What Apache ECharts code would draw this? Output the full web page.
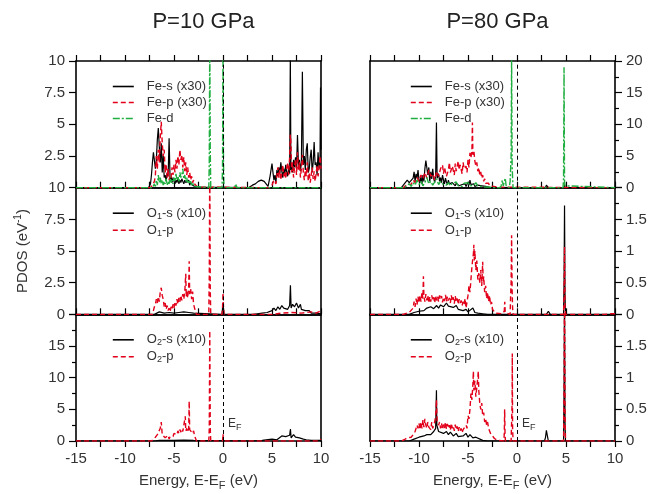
<!DOCTYPE html>
<html><head><meta charset="utf-8">
<script src="https://cdn.jsdelivr.net/npm/echarts@6/dist/echarts.min.js"></script>
<style>html,body{margin:0;padding:0;background:#fff}#c{width:663px;height:494px}</style>
</head><body><div id="c"></div>
<script>
const columnTitles = ['P=10 GPa', 'P=80 GPa'];
const fermiEnergy = [0];
const xTickRange = [-15, 10, 5];

// ---- Fe, 10 GPa ----
const fe10S = [[-15,0],[-7.6,0],[-7.4,0.3],[-7.3,1.0],[-7.2,2.0],[-7.1,2.8],[-7.0,2.9],[-6.9,1.5],[-6.8,2.2],[-6.7,3.8],[-6.6,4.7],[-6.5,3.2],[-6.4,2.0],[-6.3,3.5],[-6.2,1.2],[-6.1,2.6],[-6.0,0.8],[-5.9,1.0],[-5.8,0.5],[-5.7,1.2],[-5.6,0.9],[-5.5,3.9],[-5.4,0.7],[-5.3,0.9],[-5.2,0.4],[-5.1,0.8],[-5.0,0.5],[-4.9,0.3],[-4.8,0.6],[-4.7,0.4],[-4.6,0.8],[-4.5,0.3],[-4.4,0.6],[-4.3,0.4],[-4.2,0.7],[-4.1,0.5],[-4.0,0.3],[-3.9,0.6],[-3.8,0.4],[-3.7,0.5],[-3.6,0.3],[-3.5,0.6],[-3.4,0.2],[-3.3,0.4],[-3.2,0.3],[-3.1,0.2],[-3.0,0.3],[-2.9,0.1],[-2.8,0.05],[-2.6,0],[2.6,0],[2.8,0.1],[3.0,0.2],[3.3,0.3],[3.6,0.5],[3.9,0.6],[4.2,0.5],[4.4,0.3],[4.6,0.1],[4.8,0.9],[5.0,1.9],[5.1,1.2],[5.2,0.6],[5.3,1.0],[5.4,0.4],[5.5,1.4],[5.6,0.9],[5.7,1.6],[5.8,1.1],[5.9,2.0],[6.0,1.3],[6.1,0.8],[6.2,1.5],[6.3,1.0],[6.4,1.8],[6.5,1.2],[6.6,0.9],[6.7,1.6],[6.8,1.1],[6.87,10.5],[6.93,1.4],[7.0,1.9],[7.1,1.2],[7.2,2.2],[7.3,1.6],[7.4,2.4],[7.5,1.5],[7.6,4.15],[7.7,1.8],[7.8,2.2],[7.9,1.3],[8.0,2.0],[8.1,9.15],[8.2,1.8],[8.3,2.5],[8.4,1.4],[8.5,3.0],[8.6,3.5],[8.7,1.2],[8.8,1.5],[8.9,2.4],[9.0,3.0],[9.1,1.2],[9.2,2.0],[9.3,3.6],[9.4,1.8],[9.5,2.0],[9.6,1.0],[9.7,2.8],[9.8,1.5],[9.9,2.0],[9.95,7.9],[10,3.0]];
const fe10P = [[-15,0],[-7.4,0],[-7.2,0.2],[-7.0,0.5],[-6.9,1.0],[-6.8,2.5],[-6.7,1.5],[-6.6,3.0],[-6.5,2.0],[-6.4,4.0],[-6.3,5.2],[-6.2,3.5],[-6.1,2.5],[-6.0,3.0],[-5.9,1.2],[-5.8,1.8],[-5.7,0.8],[-5.6,1.5],[-5.5,0.6],[-5.4,1.0],[-5.3,0.8],[-5.2,1.6],[-5.1,1.0],[-5.0,1.8],[-4.9,1.2],[-4.8,2.2],[-4.7,1.5],[-4.6,2.5],[-4.5,1.8],[-4.4,3.0],[-4.3,2.2],[-4.2,2.6],[-4.1,1.6],[-4.0,2.4],[-3.9,1.3],[-3.8,2.0],[-3.7,1.0],[-3.6,1.6],[-3.5,0.8],[-3.4,1.2],[-3.3,0.6],[-3.2,0.9],[-3.1,0.4],[-3.0,0.6],[-2.9,0.3],[-2.8,0.2],[-2.6,0.05],[-2.5,0],[4.8,0],[5.0,0.2],[5.2,0.6],[5.4,0.3],[5.5,1.0],[5.6,1.6],[5.7,0.8],[5.8,1.4],[5.9,0.6],[6.0,1.2],[6.1,1.8],[6.2,0.9],[6.3,1.3],[6.4,0.7],[6.5,1.5],[6.6,2.0],[6.7,1.0],[6.8,2.4],[6.87,4.2],[6.93,3.5],[7.0,1.2],[7.1,2.0],[7.2,0.8],[7.3,1.6],[7.4,2.2],[7.5,1.0],[7.6,2.8],[7.7,1.4],[7.8,2.0],[7.9,0.8],[8.0,1.5],[8.1,2.6],[8.2,1.2],[8.3,0.6],[8.4,1.4],[8.5,0.9],[8.6,2.0],[8.7,0.5],[8.8,1.2],[8.9,0.4],[9.0,1.0],[9.1,1.6],[9.2,0.7],[9.3,1.3],[9.4,0.5],[9.5,1.1],[9.6,1.8],[9.7,0.9],[9.8,1.5],[9.9,2.5],[10,1.5]];
const fe10D = [[-15,0],[-7.2,0],[-7.0,0.3],[-6.9,0.1],[-6.8,0.6],[-6.7,0.2],[-6.6,1.0],[-6.5,0.4],[-6.4,0.8],[-6.3,0.3],[-6.2,0.6],[-6.1,0.2],[-6.0,0.5],[-5.9,0.3],[-5.8,0.7],[-5.7,0.2],[-5.6,0.5],[-5.5,0.3],[-5.4,0.9],[-5.3,0.4],[-5.2,0.6],[-5.1,0.3],[-5.0,0.8],[-4.9,0.5],[-4.8,1.1],[-4.7,0.6],[-4.6,0.9],[-4.5,0.5],[-4.4,1.2],[-4.3,0.8],[-4.2,1.0],[-4.1,1.5],[-4.0,0.7],[-3.9,1.0],[-3.8,0.5],[-3.7,0.8],[-3.6,0.4],[-3.5,0.6],[-3.4,0.3],[-3.3,0.5],[-3.2,0.2],[-3.1,0.4],[-3.0,0.1],[-2.9,0.2],[-2.8,0],[-1.45,0],[-1.4,2.0],[-1.35,12],[-1.3,3.0],[-1.25,0],[-0.1,0],[-0.05,1.5],[0.0,11],[0.05,2.0],[0.1,0],[1.2,0],[1.3,0.3],[1.4,0],[10,0]];

// ---- Fe, 80 GPa ----
const fe80S = [[-15,0],[-11.8,0],[-11.6,0.3],[-11.4,0.8],[-11.2,1.2],[-11.0,0.8],[-10.8,0.5],[-10.6,1.5],[-10.5,2.5],[-10.4,1.0],[-10.3,2.2],[-10.2,1.5],[-10.1,2.8],[-10.0,1.2],[-9.9,0.8],[-9.8,1.8],[-9.7,0.6],[-9.6,2.0],[-9.5,1.0],[-9.4,3.0],[-9.3,4.3],[-9.2,4.5],[-9.1,2.0],[-9.0,3.2],[-8.9,1.0],[-8.8,2.5],[-8.7,1.4],[-8.6,3.0],[-8.5,1.5],[-8.4,0.8],[-8.3,2.0],[-8.22,10.3],[-8.15,1.5],[-8.0,2.2],[-7.9,1.0],[-7.8,1.6],[-7.7,0.8],[-7.6,2.0],[-7.5,1.2],[-7.4,0.6],[-7.3,1.5],[-7.2,0.9],[-7.1,0.5],[-7.0,1.2],[-6.9,0.6],[-6.8,0.9],[-6.7,0.4],[-6.6,0.8],[-6.5,0.5],[-6.4,1.0],[-6.3,0.3],[-6.2,0.7],[-6.1,0.4],[-6.0,0.8],[-5.9,0.3],[-5.8,0.6],[-5.7,0.2],[-5.6,0.5],[-5.5,0.8],[-5.4,0.3],[-5.3,0.6],[-5.2,0.2],[-5.1,0.5],[-5.0,0.9],[-4.9,0.4],[-4.8,1.2],[-4.7,0.5],[-4.6,0.8],[-4.5,0.3],[-4.4,0.6],[-4.3,0.2],[-4.2,0.5],[-4.1,0.3],[-4.0,0.4],[-3.8,0.2],[-3.6,0.3],[-3.4,0.1],[-3.2,0.2],[-3.0,0.1],[-2.8,0.05],[-2.5,0],[2.9,0],[3.0,0.4],[3.1,0.1],[3.2,0],[4.8,0],[4.85,0.5],[4.9,0],[10,0]];
const fe80P = [[-15,0],[-11.6,0],[-11.4,0.3],[-11.2,0.6],[-11.0,0.9],[-10.8,0.5],[-10.6,1.2],[-10.4,0.8],[-10.2,1.6],[-10.0,1.0],[-9.8,2.0],[-9.6,1.4],[-9.4,2.4],[-9.2,1.5],[-9.0,2.8],[-8.8,1.8],[-8.6,2.2],[-8.4,1.2],[-8.2,2.6],[-8.0,1.8],[-7.8,3.0],[-7.6,3.6],[-7.5,2.2],[-7.4,3.2],[-7.2,1.8],[-7.0,2.8],[-6.9,4.0],[-6.8,2.4],[-6.6,3.4],[-6.4,2.0],[-6.3,3.8],[-6.2,2.6],[-6.0,4.2],[-5.9,2.8],[-5.8,3.6],[-5.6,2.2],[-5.5,4.0],[-5.4,3.0],[-5.2,3.4],[-5.1,2.4],[-5.0,4.4],[-4.9,3.2],[-4.8,5.5],[-4.7,4.8],[-4.6,5.8],[-4.55,10.3],[-4.5,5.2],[-4.4,5.8],[-4.3,4.2],[-4.2,3.5],[-4.1,4.0],[-4.0,2.6],[-3.9,3.2],[-3.8,2.0],[-3.7,2.5],[-3.6,1.5],[-3.5,2.0],[-3.4,1.0],[-3.3,1.4],[-3.2,0.7],[-3.1,1.0],[-3.0,0.5],[-2.9,0.7],[-2.8,0.3],[-2.6,0.5],[-2.4,0.2],[-2.2,0.4],[-2.0,0.1],[-1.8,0],[10,0]];
const fe80D = [[-15,0],[-11.5,0],[-11.3,0.3],[-11.0,0.6],[-10.8,0.2],[-10.6,0.8],[-10.4,0.4],[-10.2,1.2],[-10.0,0.5],[-9.8,1.0],[-9.6,0.3],[-9.4,0.8],[-9.2,1.6],[-9.0,0.6],[-8.8,1.0],[-8.6,0.4],[-8.4,0.9],[-8.2,1.4],[-8.0,0.5],[-7.8,1.0],[-7.6,0.6],[-7.4,0.9],[-7.2,0.4],[-7.0,0.8],[-6.8,0.3],[-6.6,0.7],[-6.4,0.4],[-6.2,0.9],[-6.0,0.3],[-5.8,0.6],[-5.6,0.2],[-5.4,0.7],[-5.2,0.4],[-5.0,0.8],[-4.8,0.3],[-4.6,0.6],[-4.4,0.4],[-4.2,0.8],[-4.0,0.3],[-3.8,0.5],[-3.6,0.2],[-3.4,0.4],[-3.2,0.1],[-3.0,0.3],[-2.8,0.1],[-2.6,0.2],[-2.4,0],[-1.7,0],[-1.6,0.4],[-1.5,1.2],[-1.4,0.3],[-1.3,0],[-1.2,1.5],[-1.1,0.2],[-0.8,0],[-0.7,1.0],[-0.6,5.0],[-0.55,21],[-0.5,4.0],[-0.45,1.5],[-0.4,0],[2.9,0],[3.0,0.3],[3.1,0],[4.7,0],[4.75,1.5],[4.8,19],[4.85,1.0],[4.9,0.3],[5.0,0],[10,0]];

// ---- O1, 10 GPa ----
const o1_10S = [[-15,0],[-7.0,0],[-6.8,0.1],[-6.5,0.2],[-6.3,0.15],[-6.0,0.1],[-5.5,0.15],[-5.0,0.1],[-4.5,0.15],[-4.0,0.2],[-3.5,0.15],[-3.0,0.1],[-2.8,0],[-0.1,0],[0.0,0.9],[0.1,0],[3.0,0],[3.5,0.05],[4.0,0.1],[4.5,0.15],[5.0,0.3],[5.2,0.5],[5.4,0.3],[5.6,0.6],[5.8,0.4],[6.0,0.7],[6.2,0.5],[6.4,0.6],[6.6,0.4],[6.8,0.7],[6.88,2.3],[6.95,0.5],[7.1,0.8],[7.3,0.6],[7.5,0.9],[7.7,0.5],[7.9,0.8],[8.0,0.4],[8.2,0.5],[8.4,0.3],[8.6,0.2],[8.8,0.3],[9.0,0.1],[9.5,0.1],[10,0.05]];
const o1_10P = [[-15,0],[-7.2,0],[-7.1,0.3],[-7.0,0.6],[-6.9,0.8],[-6.8,1.2],[-6.7,0.9],[-6.6,1.4],[-6.5,1.0],[-6.4,1.8],[-6.3,2.1],[-6.2,1.5],[-6.1,1.2],[-6.0,0.6],[-5.9,0.9],[-5.8,0.4],[-5.7,0.7],[-5.6,0.3],[-5.5,0.5],[-5.4,0.2],[-5.3,0.6],[-5.2,0.4],[-5.1,0.8],[-5.0,0.5],[-4.9,1.0],[-4.8,0.7],[-4.7,1.2],[-4.6,0.8],[-4.5,1.3],[-4.4,1.0],[-4.3,1.5],[-4.2,1.1],[-4.1,1.6],[-4.0,1.2],[-3.9,1.8],[-3.8,3.2],[-3.75,1.4],[-3.7,1.9],[-3.6,1.3],[-3.5,2.2],[-3.45,4.2],[-3.4,1.6],[-3.3,2.0],[-3.2,1.2],[-3.1,1.8],[-3.0,0.8],[-2.9,0.5],[-2.8,0.2],[-2.7,0],[-1.45,0],[-1.4,3.0],[-1.35,12],[-1.3,2.0],[-1.25,0],[-0.1,0],[-0.05,0.5],[0.0,1.7],[0.05,0.6],[0.1,0],[5.0,0],[5.2,0.05],[6.0,0.1],[7.0,0.15],[8.0,0.1],[9.0,0.2],[9.5,0.1],[10,0.3]];

// ---- O1, 80 GPa ----
const o1_80S = [[-15,0],[-11.0,0],[-10.5,0.03],[-10.0,0.05],[-9.8,0.08],[-9.5,0.06],[-9.2,0.1],[-9.0,0.07],[-8.8,0.12],[-8.5,0.09],[-8.2,0.14],[-8.0,0.1],[-7.8,0.15],[-7.5,0.12],[-7.2,0.18],[-7.0,0.13],[-6.8,0.16],[-6.5,0.11],[-6.2,0.14],[-6.0,0.08],[-5.8,0.1],[-5.5,0.06],[-5.2,0.08],[-5.0,0.04],[-4.8,0.05],[-4.5,0.1],[-4.3,0.03],[-4.0,0.02],[-3.5,0.01],[-3.0,0],[3.0,0],[3.1,0.03],[3.2,0.05],[3.3,0.02],[3.4,0],[4.75,0],[4.8,0.5],[4.85,1.72],[4.9,0.3],[4.95,0],[10,0]];
const o1_80P = [[-15,0],[-11.6,0],[-11.4,0.02],[-11.0,0.03],[-10.8,0.06],[-10.6,0.1],[-10.5,0.2],[-10.4,0.12],[-10.3,0.25],[-10.2,0.15],[-10.1,0.28],[-10.0,0.18],[-9.9,0.3],[-9.8,0.2],[-9.7,0.35],[-9.6,0.25],[-9.55,0.6],[-9.5,0.3],[-9.4,0.2],[-9.3,0.32],[-9.2,0.22],[-9.1,0.3],[-9.0,0.18],[-8.9,0.28],[-8.8,0.2],[-8.7,0.3],[-8.6,0.22],[-8.5,0.27],[-8.4,0.18],[-8.3,0.3],[-8.2,0.22],[-8.1,0.28],[-8.0,0.2],[-7.9,0.3],[-7.8,0.24],[-7.7,0.29],[-7.6,0.19],[-7.5,0.27],[-7.4,0.21],[-7.3,0.31],[-7.2,0.2],[-7.1,0.28],[-7.0,0.22],[-6.9,0.26],[-6.8,0.18],[-6.7,0.3],[-6.6,0.21],[-6.5,0.27],[-6.4,0.17],[-6.3,0.29],[-6.2,0.2],[-6.1,0.25],[-6.0,0.16],[-5.9,0.24],[-5.8,0.18],[-5.7,0.22],[-5.6,0.14],[-5.5,0.2],[-5.4,0.15],[-5.3,0.25],[-5.2,0.1],[-5.1,0.2],[-5.0,0.3],[-4.9,0.45],[-4.8,0.35],[-4.7,0.55],[-4.6,0.75],[-4.5,0.9],[-4.45,0.95],[-4.4,1.1],[-4.35,0.85],[-4.3,1.0],[-4.2,0.7],[-4.1,0.85],[-4.0,0.55],[-3.9,0.65],[-3.8,0.5],[-3.7,0.7],[-3.6,0.45],[-3.5,0.83],[-3.45,0.5],[-3.4,0.6],[-3.3,0.35],[-3.2,0.45],[-3.1,0.25],[-3.0,0.35],[-2.9,0.2],[-2.8,0.3],[-2.7,0.15],[-2.6,0.2],[-2.5,0.08],[-2.4,0.05],[-2.2,0.02],[-2.0,0.01],[-1.5,0.01],[-1.3,0.05],[-1.25,0.2],[-1.2,0.03],[-1.0,0],[-0.7,0],[-0.65,0.3],[-0.6,0.5],[-0.55,1.25],[-0.5,0.4],[-0.45,0.1],[-0.4,0],[4.75,0],[4.8,0.3],[4.85,1.07],[4.9,0.1],[4.95,0],[9.0,0],[9.5,0.01],[10,0.01]];

// ---- O2, 10 GPa ----
const o2_10S = [[-15,0],[-7.0,0],[-6.5,0.1],[-5.0,0.1],[-4.0,0.15],[-3.0,0.1],[-2.8,0],[3.0,0],[4.0,0.1],[5.0,0.3],[5.5,0.2],[6.0,0.8],[6.2,0.5],[6.4,0.7],[6.6,0.4],[6.8,0.9],[6.88,1.9],[6.95,0.5],[7.2,1.0],[7.4,0.6],[7.6,0.9],[7.8,0.5],[8.0,0.8],[8.2,0.3],[8.5,0.2],[9.0,0.1],[10,0.1]];
const o2_10P = [[-15,0],[-7.3,0],[-7.1,0.3],[-6.9,0.6],[-6.7,1.0],[-6.5,1.2],[-6.4,2.0],[-6.3,3.0],[-6.2,1.0],[-6.1,0.8],[-6.0,1.1],[-5.9,0.5],[-5.8,0.8],[-5.7,0.4],[-5.6,0.9],[-5.5,0.3],[-5.4,0.7],[-5.3,0.5],[-5.2,1.0],[-5.1,0.7],[-5.0,1.2],[-4.9,0.9],[-4.8,1.4],[-4.7,1.0],[-4.6,1.6],[-4.5,1.2],[-4.4,1.8],[-4.3,1.4],[-4.2,1.9],[-4.1,1.5],[-4.0,1.7],[-3.9,1.3],[-3.85,3.9],[-3.8,1.6],[-3.7,2.0],[-3.6,1.4],[-3.5,1.9],[-3.45,6.3],[-3.4,1.8],[-3.3,1.5],[-3.2,2.0],[-3.1,1.2],[-3.0,1.6],[-2.9,0.8],[-2.8,0.4],[-2.7,0],[-1.45,0],[-1.4,2.0],[-1.35,17.4],[-1.3,2.0],[-1.25,0],[-0.05,0],[0.0,1.1],[0.05,0],[9.8,0],[10,0.3]];

// ---- O2, 80 GPa ----
const o2_80S = [[-15,0],[-11.0,0],[-10.5,0.03],[-10.0,0.06],[-9.5,0.08],[-9.2,0.1],[-9.0,0.13],[-8.8,0.1],[-8.5,0.15],[-8.3,0.2],[-8.22,0.8],[-8.18,0.25],[-8.0,0.15],[-7.8,0.18],[-7.5,0.12],[-7.2,0.15],[-7.0,0.1],[-6.8,0.14],[-6.5,0.08],[-6.2,0.12],[-6.0,0.07],[-5.8,0.1],[-5.5,0.08],[-5.2,0.12],[-5.0,0.06],[-4.8,0.1],[-4.5,0.05],[-4.2,0.06],[-4.0,0.03],[-3.5,0.01],[-3.0,0],[2.8,0],[2.9,0.05],[3.0,0.17],[3.1,0.08],[3.2,0],[4.75,0],[4.8,0.8],[4.85,2.5],[4.9,0.3],[4.95,0],[10,0]];
const o2_80P = [[-15,0],[-11.8,0],[-11.5,0.02],[-11.2,0.05],[-11.0,0.08],[-10.8,0.06],[-10.6,0.1],[-10.4,0.15],[-10.2,0.25],[-10.1,0.2],[-10.0,0.28],[-9.9,0.18],[-9.8,0.3],[-9.7,0.2],[-9.6,0.33],[-9.5,0.22],[-9.4,0.35],[-9.3,0.25],[-9.2,0.2],[-9.1,0.3],[-9.0,0.22],[-8.9,0.25],[-8.8,0.18],[-8.7,0.3],[-8.6,0.2],[-8.5,0.25],[-8.4,0.3],[-8.3,0.4],[-8.22,0.65],[-8.15,0.3],[-8.0,0.25],[-7.9,0.3],[-7.8,0.2],[-7.7,0.28],[-7.6,0.18],[-7.5,0.26],[-7.4,0.2],[-7.3,0.3],[-7.2,0.19],[-7.1,0.27],[-7.0,0.2],[-6.9,0.25],[-6.8,0.17],[-6.7,0.28],[-6.6,0.2],[-6.5,0.24],[-6.4,0.16],[-6.3,0.26],[-6.2,0.18],[-6.1,0.23],[-6.0,0.15],[-5.9,0.22],[-5.8,0.16],[-5.7,0.2],[-5.6,0.13],[-5.5,0.18],[-5.4,0.15],[-5.2,0.25],[-5.1,0.2],[-5.0,0.4],[-4.9,0.35],[-4.8,0.5],[-4.7,0.75],[-4.6,0.65],[-4.5,0.9],[-4.45,1.1],[-4.4,0.8],[-4.3,0.95],[-4.2,0.7],[-4.1,0.85],[-4.0,1.0],[-3.95,1.1],[-3.9,0.8],[-3.8,0.6],[-3.7,0.5],[-3.6,0.6],[-3.5,0.4],[-3.4,0.45],[-3.3,0.3],[-3.2,0.35],[-3.1,0.25],[-3.0,0.3],[-2.9,0.2],[-2.8,0.22],[-2.7,0.12],[-2.6,0.15],[-2.5,0.08],[-2.4,0.1],[-2.3,0.04],[-2.2,0.02],[-2.0,0.01],[-1.35,0],[-1.3,0.1],[-1.26,0.5],[-1.22,0.1],[-1.18,0],[-0.6,0],[-0.55,0.3],[-0.5,0.6],[-0.48,1.38],[-0.45,0.2],[-0.4,0],[4.75,0],[4.8,0.8],[4.85,2.5],[4.9,0.5],[4.95,0],[10,0]];

const feNames = ['Fe-s (x30)', 'Fe-p (x30)', 'Fe-d'];
const o1Names = ['O1-s (x10)', 'O1-p'];
const o2Names = ['O2-s (x10)', 'O2-p'];

const FONT = 'Liberation Sans, Arial, Helvetica, sans-serif';
const BLACK = '#000000', RED = '#e2001a', GREEN = '#1fae3f';
const styleFor = {
  s: {color: BLACK, width: 1.2, type: 'solid'},
  p: {color: RED, width: 1.4, type: [5, 3]},
  d: {color: GREEN, width: 1.4, type: [7, 2, 2, 2]}
};

const panels = [
  {col:0,row:0,names:feNames,data:[fe10S,fe10P,fe10D],kinds:['s','p','d'],yMax:10,yInt:2.5,minor:false},
  {col:0,row:1,names:o1Names,data:[o1_10S,o1_10P],kinds:['s','p'],yMax:10,yInt:2.5,minor:false},
  {col:0,row:2,names:o2Names,data:[o2_10S,o2_10P],kinds:['s','p'],yMax:20,yInt:5,minor:true},
  {col:1,row:0,names:feNames,data:[fe80S,fe80P,fe80D],kinds:['s','p','d'],yMax:20,yInt:5,minor:true},
  {col:1,row:1,names:o1Names,data:[o1_80S,o1_80P],kinds:['s','p'],yMax:2,yInt:0.5,minor:true},
  {col:1,row:2,names:o2Names,data:[o2_80S,o2_80P],kinds:['s','p'],yMax:2,yInt:0.5,minor:true}
];

const colX = [76, 370], rowY = [61, 187.7, 314.3], gW = 245, gH = 126.7;
const axisLineStyle = {color: '#000', width: 1.6};
const labelStyle = {fontSize: 15, color: '#333', fontFamily: FONT};

const grid = [], xAxis = [], yAxis = [], series = [], legend = [];
panels.forEach((p, i) => {
  grid.push({left: colX[p.col], top: rowY[p.row], width: gW, height: gH});
  const isBottom = p.row === 2;
  xAxis.push({
    gridIndex: i, type: 'value', position: 'bottom', min: xTickRange[0], max: xTickRange[1], interval: xTickRange[2],
    axisLine: {show: true, onZero: false, lineStyle: axisLineStyle},
    axisTick: {show: isBottom, length: 6, lineStyle: {color: '#000', width: 1.2}},
    minorTick: {show: isBottom, splitNumber: 2, length: 6, lineStyle: {color: '#000', width: 1.2}},
    axisLabel: Object.assign({show: isBottom, margin: 10}, labelStyle),
    splitLine: {show: false}, minorSplitLine: {show: false},
    name: isBottom ? 'Energy, E-E{sub|F} (eV)' : '', nameLocation: 'middle', nameGap: 30,
    nameTextStyle: {fontSize: 15, color: '#333', fontFamily: FONT, rich: {sub: {fontSize: 11, color: '#333', fontFamily: FONT, padding: [9, 0, 0, 0]}}}
  });
  xAxis.push({
    gridIndex: i, type: 'value', position: 'top', min: xTickRange[0], max: xTickRange[1], interval: xTickRange[2],
    axisLine: {show: true, onZero: false, lineStyle: axisLineStyle},
    axisTick: {show: true, length: 6, lineStyle: {color: '#000', width: 1.2}},
    minorTick: {show: true, splitNumber: 2, length: 6, lineStyle: {color: '#000', width: 1.2}},
    axisLabel: {show: false}, splitLine: {show: false}
  });
  const labeledLeft = p.col === 0;
  const mk = (pos, labeled) => ({
    gridIndex: i, type: 'value', position: pos, min: 0, max: p.yMax, interval: p.yInt,
    axisLine: {show: true, onZero: false, lineStyle: axisLineStyle},
    axisTick: {show: labeled, length: 7, lineStyle: {color: '#000', width: 1.2}},
    minorTick: {show: labeled && p.minor, splitNumber: 2, length: 4, lineStyle: {color: '#000', width: 1.2}},
    axisLabel: Object.assign({
      show: labeled, margin: 11,
      showMinLabel: !(p.col === 0 && p.row === 0),
      showMaxLabel: !((p.col === 0 && p.row === 2) || (p.col === 1 && p.row > 0))
    }, labelStyle),
    splitLine: {show: false},
    name: (p.col === 0 && p.row === 1 && labeled) ? 'PDOS (eV{sup|-1})' : '',
    nameLocation: 'middle', nameRotate: 90, nameGap: 44,
    nameTextStyle: {fontSize: 15, color: '#333', fontFamily: FONT, rich: {sup: {fontSize: 10, color: '#333', fontFamily: FONT, padding: [0, 0, 9, 0]}}}
  });
  yAxis.push(mk('left', labeledLeft));
  yAxis.push(mk('right', !labeledLeft));
  const yIdx = labeledLeft ? 2 * i : 2 * i + 1;
  p.names.forEach((nm, k) => {
    const st = styleFor[p.kinds[k]];
    const s = {
      type: 'line', name: nm, xAxisIndex: 2 * i, yAxisIndex: yIdx, data: p.data[k],
      symbol: 'none', showSymbol: false, clip: true, z: 2 + k,
      lineStyle: {color: st.color, width: st.width, type: st.type}, itemStyle: {color: st.color},
      emphasis: {disabled: true}
    };
    if (k === 0) {
      s.markLine = {silent: true, symbol: 'none', label: {show: false},
        lineStyle: {color: '#000', type: [4, 3], width: 1}, data: fermiEnergy.map(v => ({xAxis: v}))};
    }
    series.push(s);
  });
  legend.push({
    orient: 'vertical', left: p.col === 0 ? 107 : 405, top: rowY[p.row] + 14,
    data: p.names, itemWidth: 21, itemHeight: 10, itemGap: 3, selectedMode: false,
    itemStyle: {opacity: 0},
    lineStyle: {width: 1.6},
    formatter: n => n.replace(/^O(\d)/, 'O{sub|$1}'),
    textStyle: {fontSize: 13, color: '#333', fontFamily: FONT, padding: [0, 0, 0, 8],
      rich: {sub: {fontSize: 9, color: '#333', fontFamily: FONT, padding: [6, 0, 0, 0]}}}
  });
});

const chart = echarts.init(document.getElementById('c'), null, {renderer: 'canvas'});
chart.setOption({
  animation: false,
  backgroundColor: '#fff',
  textStyle: {fontFamily: FONT},
  title: columnTitles.map((t, c) => ({
    text: t, left: colX[c] + gW / 2, top: 6, textAlign: 'center',
    textStyle: {fontSize: 22, fontWeight: 'normal', color: '#222', fontFamily: FONT}
  })),
  grid, xAxis, yAxis, series, legend,
  graphic: colX.map(x => ({
    type: 'text', left: x + 152, top: 418, silent: true,
    style: {text: 'E{sub|F}', fontSize: 12, fill: '#333', fontFamily: FONT,
      rich: {sub: {fontSize: 9, fill: '#333', fontFamily: FONT, padding: [7, 0, 0, 0]}}}
  }))
});
</script>
</body></html>
